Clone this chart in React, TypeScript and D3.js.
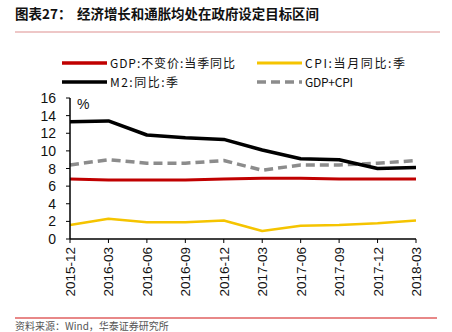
import React from "react";
import * as d3 from "d3";

const categories = ["2015-12","2016-03","2016-06","2016-09","2016-12","2017-03","2017-06","2017-09","2017-12","2018-03"];
const gdp = [6.8, 6.7, 6.7, 6.7, 6.8, 6.9, 6.9, 6.8, 6.8, 6.8];
const cpi = [1.6, 2.3, 1.9, 1.9, 2.1, 0.9, 1.5, 1.6, 1.8, 2.1];
const m2 = [13.3, 13.4, 11.8, 11.5, 11.3, 10.1, 9.1, 9.0, 8.0, 8.1];
const gdpCpi = [8.4, 9.0, 8.6, 8.6, 8.9, 7.8, 8.4, 8.4, 8.6, 8.9];
const yTicks = [0, 2, 4, 6, 8, 10, 12, 14, 16];

const W = 452, H = 332;
const x0 = 70, x1 = 416, yTop = 98, yBot = 239;

export default function App() {
  const x = d3.scalePoint<string>().domain(categories).range([x0, x1]);
  const y = d3.scaleLinear().domain([0, 16]).range([yBot, yTop]);
  const line = d3.line<number>().x((_, i) => x(categories[i])!).y(d => y(d));
  const font = "Arial, 'Liberation Sans', sans-serif";
  const cjk = "'Noto Sans CJK SC', sans-serif";
  const series = [
    { data: gdpCpi, color: "#8c8c8c", w: 3.5, dash: "9,5" },
    { data: cpi, color: "#F5C400", w: 2.5, dash: undefined },
    { data: gdp, color: "#C00000", w: 3, dash: undefined },
    { data: m2, color: "#000000", w: 3.5, dash: undefined },
  ];
  const legend = [
    { label: "GDP:不变价:当季同比", color: "#C00000", w: 3.5, dash: undefined, lx: 62, ly: 63, len: 125 },
    { label: "CPI:当月同比:季", color: "#F5C400", w: 3, dash: undefined, lx: 257, ly: 63, len: 100 },
    { label: "M2:同比:季", color: "#000000", w: 3.5, dash: undefined, lx: 62, ly: 82, len: 68 },
    { label: "GDP+CPI", color: "#8c8c8c", w: 3.5, dash: "9,5", lx: 257, ly: 82, len: 48 },
  ];
  return (
    <svg width={W} height={H} style={{ position: "absolute", left: 0, top: 0, background: "#fff" }}>
      <rect width={W} height={H} fill="#fff" />
      <text x={15} y={19} fontFamily={cjk} fontWeight="bold" fontSize={13.5} fill="#111">图表27：</text>
      <text x={77} y={19} fontFamily={cjk} fontWeight="bold" fontSize={13.5} fill="#111" textLength={242} lengthAdjust="spacingAndGlyphs">经济增长和通胀均处在政府设定目标区间</text>
      <line x1={15} x2={440} y1={32} y2={32} stroke="#e8b4b4" strokeWidth={1.5} />
      {legend.map((l, i) => (
        <g key={i}>
          <line x1={l.lx} x2={l.lx + 45} y1={l.ly} y2={l.ly} stroke={l.color} strokeWidth={l.w} strokeDasharray={l.dash} />
          <text x={l.lx + 48} y={l.ly + 4.5} fontFamily={cjk} fontSize={12} fill="#111" textLength={l.len} lengthAdjust="spacing">{l.label}</text>
        </g>
      ))}
      <text x={77} y={109} fontFamily={font} fontSize={14} fill="#111">%</text>
      {series.map((s, i) => (
        <path key={i} d={line(s.data)!} fill="none" stroke={s.color} strokeWidth={s.w} strokeDasharray={s.dash} strokeLinejoin="round" />
      ))}
      <line x1={x0} x2={x0} y1={yTop} y2={yBot} stroke="#000" strokeWidth={1.5} />
      <line x1={x0} x2={x1} y1={yBot} y2={yBot} stroke="#000" strokeWidth={1.5} />
      {yTicks.map(t => (
        <g key={t}>
          <line x1={x0 - 4} x2={x0} y1={y(t)} y2={y(t)} stroke="#000" strokeWidth={1} />
          <text x={56} y={y(t) + 5} textAnchor="end" fontFamily={font} fontSize={14} fill="#111">{t}</text>
        </g>
      ))}
      {categories.map(c => (
        <g key={c}>
          <line x1={x(c)!} x2={x(c)!} y1={yBot} y2={yBot + 4} stroke="#000" strokeWidth={1} />
          <text transform={`translate(${x(c)! + 5},${yBot + 8}) rotate(-90)`} textAnchor="end" fontFamily={font} fontSize={13.5} fill="#111">{c}</text>
        </g>
      ))}
      <line x1={15} x2={437} y1={318} y2={318} stroke="#e06060" strokeWidth={1.5} />
      <text x={15} y={330} fontFamily={cjk} fontSize={10} fill="#555">资料来源：Wind，华泰证券研究所</text>
    </svg>
  );
}
